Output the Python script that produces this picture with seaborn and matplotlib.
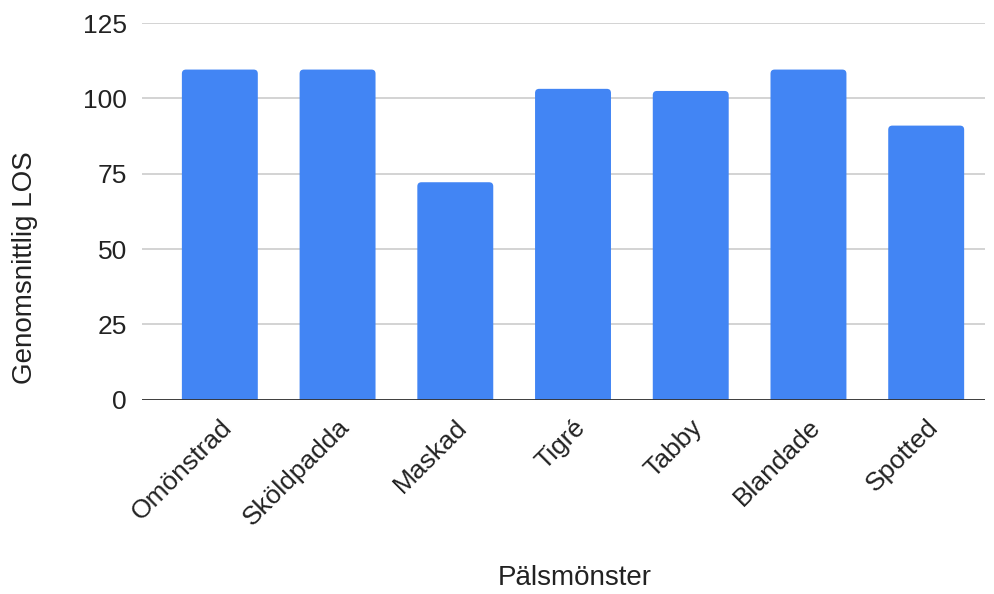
import pandas as pd
import matplotlib.pyplot as plt
import seaborn as sns
from matplotlib.patches import FancyBboxPatch

# Chart data
patterns = ["Omönstrad", "Sköldpadda", "Maskad", "Tigré", "Tabby", "Blandade", "Spotted"]
avg_los = [109.6, 109.6, 72.2, 103.2, 102.5, 109.6, 91.0]
y_ticks = [0, 25, 50, 75, 100, 125]

df = pd.DataFrame({"Pälsmönster": patterns, "Genomsnittlig LOS": avg_los})

sns.set_theme(style="white")
plt.rcParams["font.family"] = ["Liberation Sans", "DejaVu Sans"]

fig, ax = plt.subplots(figsize=(9.94, 5.94), dpi=100)
fig.subplots_adjust(left=0.143, right=0.991, top=0.961, bottom=0.327)

sns.barplot(data=df, x="Pälsmönster", y="Genomsnittlig LOS", color="#4285F4",
            width=0.645, saturation=1, ax=ax, zorder=3)

ax.set_ylim(0, 125)
ax.set_xlim(-0.66, len(patterns) - 0.5)

# round the bar corners a little (bottom corners hidden below zero)
x_px = ax.bbox.width / (ax.get_xlim()[1] - ax.get_xlim()[0])
y_px = ax.bbox.height / 125
for p in list(ax.patches):
    x, w, h = p.get_x(), p.get_width(), p.get_height()
    fc = p.get_facecolor()
    p.remove()
    ax.add_patch(FancyBboxPatch((x, -3), w, h + 3,
                                boxstyle="round,pad=0,rounding_size=0.035",
                                mutation_aspect=x_px / y_px,
                                facecolor=fc, edgecolor="none", zorder=3))

ax.set_yticks(y_ticks)
ax.yaxis.grid(True, color="#cccccc", linewidth=1.2, zorder=0)
ax.axhline(0, color="#333333", linewidth=1.3, zorder=4)
for s in ax.spines.values():
    s.set_visible(False)

ax.tick_params(axis="both", length=0, labelsize=19, colors="#222222")
ax.tick_params(axis="y", pad=11)
ax.tick_params(axis="x", pad=11)
plt.setp(ax.get_xticklabels(), rotation=45, ha="right", rotation_mode="anchor")

ax.set_xlabel("Pälsmönster", fontsize=20, color="#222222")
ax.set_ylabel("Genomsnittlig LOS", fontsize=20, color="#222222")
ax.xaxis.set_label_coords(0.513, -0.44)
ax.yaxis.set_label_coords(-0.124, 0.35)

fig.savefig("out.png", dpi=100)
